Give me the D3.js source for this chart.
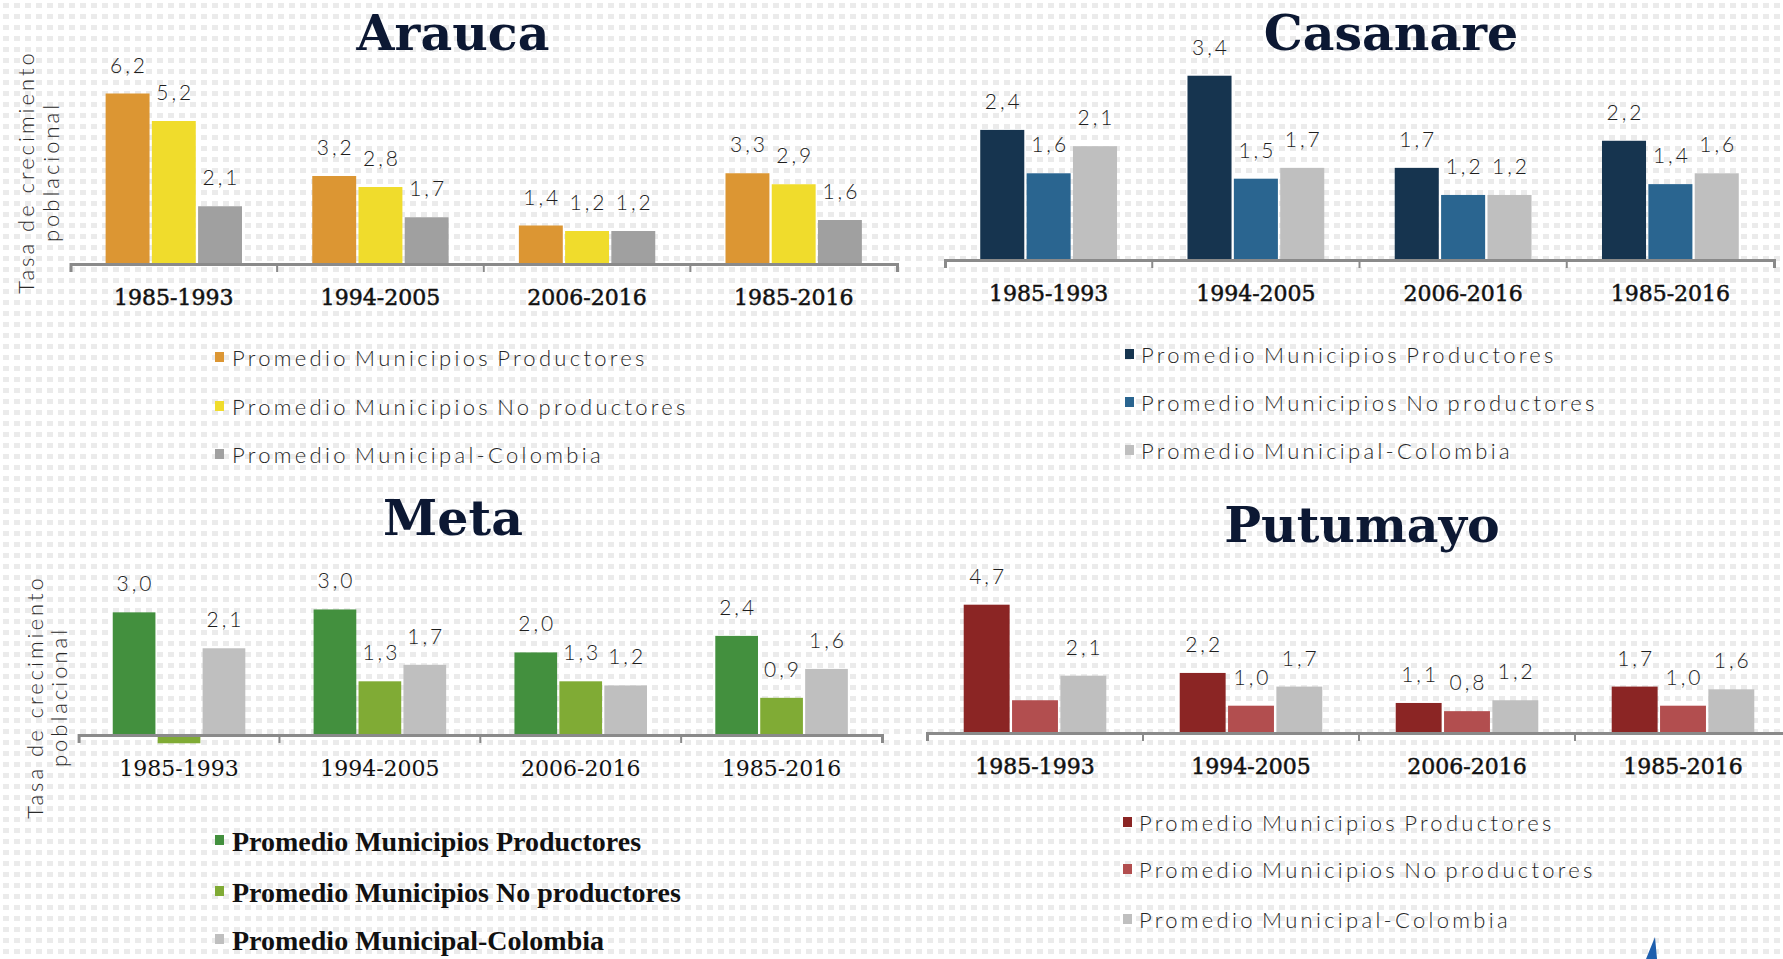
<!DOCTYPE html>
<meta charset="utf-8">
<style>
body { margin: 0; background: #fff; }
svg { display: block; }
.lbl { font-family: Lato, "Open Sans", sans-serif; font-weight: 300; font-size: 21px; fill: #1e1e1e; letter-spacing: 3px; }
.ytitle { font-family: Lato, "Open Sans", sans-serif; font-weight: 300; font-size: 22px; fill: #2a2a2a; letter-spacing: 3px; }
.leg { font-family: Lato, "Open Sans", sans-serif; font-weight: 300; font-size: 22px; fill: #262626; letter-spacing: 3.3px; word-spacing: -3px; }
.leg.bold { font-family: "Liberation Serif", serif; font-weight: bold; font-size: 28px; fill: #111; letter-spacing: 0; word-spacing: 0; }
.title { font-family: "DejaVu Serif", serif; font-weight: bold; font-size: 49px; fill: #0c1833; }
</style>
<svg width="1783" height="959"></svg>
<script src="https://cdn.jsdelivr.net/npm/d3@7"></script>
<script>

var periods = ["1985-1993", "1994-2005", "2006-2016", "1985-2016"]
var seriesNames = ["Promedio Municipios Productores", "Promedio Municipios No productores", "Promedio Municipal-Colombia"]

var colombia = [2.1, 1.7, 1.2, 1.6]

var araucaProd   = [6.2, 3.2, 1.4, 3.3]
var araucaNoProd = [5.2, 2.8, 1.2, 2.9]

var casanareProd   = [2.4, 3.4, 1.7, 2.2]
var casanareNoProd = [1.6, 1.5, 1.2, 1.4]

var metaProd   = [2.97, 3.04, 2.0, 2.4]
var metaNoProd = [-0.2, 1.3, 1.3, 0.9]

var putumayoProd   = [4.7, 2.2, 1.1, 1.7]
var putumayoNoProd = [1.2, 1.0, 0.8, 1.0]

// labels that the original chart leaves out: department|series|period
var hiddenLabels = ["Meta|1|1985-1993", "Putumayo|1|1985-1993"]

var araucaColors   = ["#dc9633", "#f0dc2c", "#a0a0a0"]
var casanareColors = ["#16344f", "#2a6590", "#bfbfbf"]
var metaColors     = ["#43903e", "#80ab35", "#bfbfbf"]
var putumayoColors = ["#8b2524", "#b24e4f", "#bfbfbf"]

var panels = [
  {name: "Arauca", series: [araucaProd, araucaNoProd, colombia], colors: araucaColors,
   left: 70.5, right: 897, base: 264, ymax: 7, top: 264 - 7 * 27.5,
   tx: 453, ty: 50, ytitle: {a: 34, b: 59, cy: 172},
   leg: {mx: 215, tx: 232, rows: [358, 407, 455]}, bold: false, catBold: true},
  {name: "Casanare", series: [casanareProd, casanareNoProd, colombia], colors: casanareColors,
   left: 945, right: 1774, base: 260, ymax: 4, top: 260 - 4 * 54.2,
   tx: 1391, ty: 50, ytitle: null,
   leg: {mx: 1125, tx: 1141, rows: [355, 403, 451]}, bold: false, catBold: true},
  {name: "Meta", series: [metaProd, metaNoProd, colombia], colors: metaColors,
   left: 78.6, right: 882, base: 735, ymax: 4, top: 735 - 4 * 41.3,
   tx: 453, ty: 535, ytitle: {a: 43, b: 67, cy: 697},
   leg: {mx: 215, tx: 232, rows: [841, 892, 940]}, bold: true, catBold: false},
  {name: "Putumayo", series: [putumayoProd, putumayoNoProd, colombia], colors: putumayoColors,
   left: 927, right: 1791, base: 733, ymax: 5, top: 733 - 5 * 27.3,
   tx: 1362, ty: 542, ytitle: null,
   leg: {mx: 1123, tx: 1139, rows: [823, 870, 920]}, bold: false, catBold: true}
]

var svg = d3.select("svg")

// dotted page background
var pat = svg.append("defs").append("pattern")
  .attr("id", "dots").attr("width", 11).attr("height", 11)
  .attr("patternUnits", "userSpaceOnUse")
pat.append("rect").attr("x", 3).attr("y", 3).attr("width", 6).attr("height", 5).attr("fill", "#ebebeb")
svg.append("rect").attr("width", 1783).attr("height", 959).attr("fill", "url(#dots)")

var fmt = function(v){ return d3.format(".1f")(v).replace(".", ",") }

panels.forEach(drawPanel)

function drawPanel(p) {
  var g = svg.append("g")

  var x0 = d3.scaleBand().domain(periods).range([p.left, p.right]).paddingInner(0.34).paddingOuter(0.17)
  var x1 = d3.scaleBand().domain(d3.range(seriesNames.length)).range([0, x0.bandwidth()]).paddingInner(0.05)
  var y = d3.scaleLinear().domain([0, p.ymax]).range([p.base, p.top])

  var cells = []
  p.series.forEach(function(s, si){
    s.forEach(function(v, i){
      cells.push({s: si, period: periods[i], v: v})
    })
  })

  g.append("g").selectAll("rect")
    .data(cells)
    .enter().append("rect")
      .attr("x", function(d){ return x0(d.period) + x1(d.s) })
      .attr("width", x1.bandwidth())
      .attr("y", function(d){ return y(Math.max(0, d.v)) })
      .attr("height", function(d){ return Math.abs(y(d.v) - y(0)) })
      .attr("fill", function(d){ return p.colors[d.s] })

  g.append("g").selectAll("text")
    .data(cells.filter(function(d){ return hiddenLabels.indexOf(p.name + "|" + d.s + "|" + d.period) < 0 }))
    .enter().append("text")
      .attr("class", "lbl")
      .attr("text-anchor", "middle")
      .attr("x", function(d){ return x0(d.period) + x1(d.s) + x1.bandwidth() / 2 + 1.5 })
      .attr("y", function(d){ return y(Math.max(0, d.v)) - 21 })
      .text(function(d){ return fmt(d.v) })

  var ax = g.append("g")
    .attr("transform", "translate(0," + p.base + ")")
    .call(d3.axisBottom(x0).tickSizeInner(0).tickSizeOuter(8).tickPadding(25))
  ax.select(".domain").attr("stroke", "#8a8a8a").attr("stroke-width", 3)
  ax.selectAll(".tick text")
    .attr("font-family", "DejaVu Serif, serif")
    .attr("font-size", 22)
    .attr("fill", "#111")
    .attr("stroke", p.catBold ? "#111" : null)
    .attr("stroke-width", p.catBold ? 0.5 : null)
  ax.selectAll(".bound")
    .data(periods.slice(1))
    .enter().append("line")
      .attr("class", "bound")
      .attr("x1", function(d){ return x0(d) - x0.step() * x0.paddingInner() / 2 })
      .attr("x2", function(d){ return x0(d) - x0.step() * x0.paddingInner() / 2 })
      .attr("y1", 0).attr("y2", 8)
      .attr("stroke", "#8a8a8a").attr("stroke-width", 2)

  g.append("text")
    .attr("class", "title")
    .attr("text-anchor", "middle")
    .attr("x", p.tx).attr("y", p.ty)
    .text(p.name)

  if (p.ytitle) {
    var yt = p.ytitle
    g.append("text").attr("class", "ytitle").attr("text-anchor", "middle")
      .attr("transform", "translate(" + yt.a + "," + yt.cy + ") rotate(-90)")
      .text("Tasa de crecimiento")
    g.append("text").attr("class", "ytitle").attr("text-anchor", "middle")
      .attr("transform", "translate(" + yt.b + "," + yt.cy + ") rotate(-90)")
      .text("poblacional")
  }

  var leg = g.append("g").selectAll("g")
    .data(seriesNames)
    .enter().append("g")
      .attr("transform", function(d, i){ return "translate(0," + p.leg.rows[i] + ")" })
  leg.append("rect")
    .attr("x", p.leg.mx).attr("y", -6)
    .attr("width", 9).attr("height", 10)
    .attr("fill", function(d, i){ return p.colors[i] })
  leg.append("text")
    .attr("class", p.bold ? "leg bold" : "leg")
    .attr("x", p.leg.tx).attr("dy", "0.35em")
    .text(function(d){ return d })
}

// corner of a logo peeking in at the bottom edge
svg.append("path")
  .attr("d", "M1646,959 L1655,937 L1657,959 Z")
  .attr("fill", "#1f5fae")
</script>
